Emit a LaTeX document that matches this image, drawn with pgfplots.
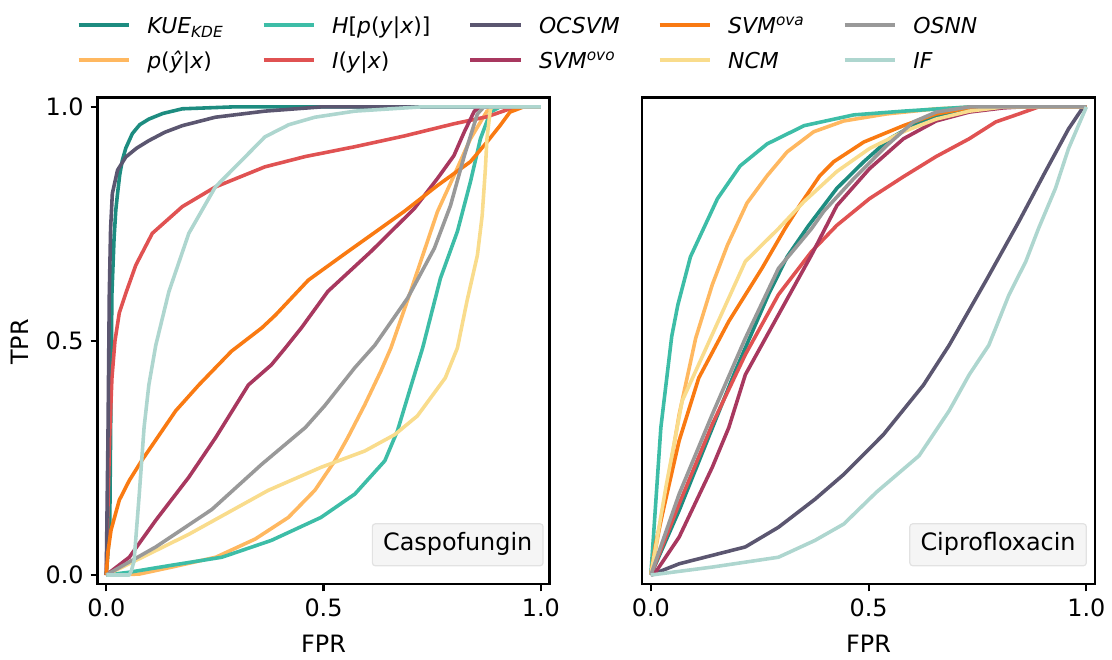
\documentclass[border=0pt]{standalone}
\usepackage{fontspec}
\setmainfont{DejaVu Sans}
\usepackage{pgfplots}
\pgfplotsset{compat=1.18}
\definecolor{ckue}{HTML}{1D8C80}
\definecolor{ch}{HTML}{3DBDA7}
\definecolor{cocsvm}{HTML}{5B5670}
\definecolor{cova}{HTML}{F97A12}
\definecolor{cosnn}{HTML}{999999}
\definecolor{cp}{HTML}{FFB860}
\definecolor{ci}{HTML}{E05252}
\definecolor{covo}{HTML}{A8385F}
\definecolor{cncm}{HTML}{F9DC8C}
\definecolor{cif}{HTML}{AED6CF}
\definecolor{boxfill}{HTML}{F5F5F5}
\definecolor{boxdraw}{HTML}{E2E2E2}
\tikzset{
  boxlab/.style={anchor=south east, fill=boxfill, draw=boxdraw, line width=0.6pt,
    rounded corners=1.5pt, font=\fontsize{12}{14}\selectfont,
    inner xsep=5.4pt, inner ysep=4.8pt, text height=8.8pt, text depth=2.7pt},
}
\pgfplotsset{
  myaxis/.style={
    scale only axis, height=244.5pt,
    xmin=-0.02, xmax=1.02, ymin=-0.02, ymax=1.02,
    axis line style={line width=1.1pt},
    tick align=outside, tick pos=left, major tick length=3.5pt,
    every tick/.style={black, line width=1.1pt},
    xtick={0,0.5,1}, xticklabels={0.0,0.5,1.0},
    tick label style={font=\fontsize{12}{14}\selectfont},
    label style={font=\fontsize{12}{14}\selectfont},
    xlabel={FPR},
    xlabel style={at={(axis description cs:0.5,-0.1227)}, anchor=center},
    every axis plot/.append style={line width=1.8pt, line join=round},
  },
}
\begin{document}
\begin{tikzpicture}
\path (0,0) rectangle (556pt,-328.5pt);
% ---------------- Caspofungin ----------------
\begin{axis}[myaxis, width=227pt, at={(49pt,-293.5pt)}, anchor=south west,
  ytick={0,0.5,1}, yticklabels={0.0,0.5,1.0},
  ylabel={TPR}, ylabel style={at={(axis description cs:-0.172,0.498)}, anchor=center},
  legend columns=5,
  legend cell align=left,
  legend image code/.code={\draw[#1, line width=2pt] (0pt,1.5pt) -- (25.5pt,1.5pt);},
  legend style={draw=none, fill=none, at={(axis description cs:-0.0463,1.1667)},
    anchor=north west, inner sep=0pt, outer sep=0pt,
    font=\fontsize{11}{13}\selectfont, row sep=6pt,
    nodes={inner sep=0pt, text height=8.5pt, text depth=3pt},
    /tikz/every odd column/.append style={column sep=8pt},
    /tikz/every even column/.append style={column sep=19pt}},
]
\addplot[color=ckue, forget plot] coordinates {(0,0) (0.008,0.1) (0.011,0.4) (0.013,0.6) (0.018,0.72) (0.022,0.78) (0.026,0.815) (0.031,0.855) (0.037,0.886) (0.045,0.912) (0.06,0.943) (0.077,0.962) (0.098,0.974) (0.13,0.986) (0.175,0.996) (0.29,1) (1,1)};
\addplot[color=cp, forget plot] coordinates {(0,0) (0.076,0.002) (0.151,0.017) (0.252,0.038) (0.343,0.077) (0.419,0.123) (0.48,0.181) (0.526,0.244) (0.556,0.294) (0.595,0.364) (0.632,0.436) (0.655,0.485) (0.70,0.605) (0.762,0.776) (0.8,0.853) (0.838,0.932) (0.876,0.991) (0.9,1) (1,1)};
\addplot[color=ch, forget plot] coordinates {(0,0) (0.053,0.006) (0.151,0.021) (0.266,0.038) (0.38,0.074) (0.494,0.123) (0.572,0.173) (0.641,0.244) (0.67,0.308) (0.70,0.40) (0.728,0.485) (0.769,0.634) (0.808,0.734) (0.838,0.84) (0.861,0.932) (0.884,0.989) (0.906,1.0) (1,1)};
\addplot[color=ci, forget plot] coordinates {(0,0) (0.004,0.15) (0.008,0.3) (0.013,0.42) (0.02,0.5) (0.03,0.56) (0.045,0.602) (0.068,0.662) (0.106,0.73) (0.175,0.787) (0.251,0.829) (0.365,0.872) (0.458,0.894) (0.572,0.915) (0.686,0.938) (0.8,0.964) (0.876,0.979) (0.929,0.996) (0.95,1) (1,1)};
\addplot[color=cocsvm, forget plot] coordinates {(0,0) (0.004,0.3) (0.007,0.6) (0.01,0.74) (0.014,0.815) (0.026,0.865) (0.045,0.893) (0.07,0.912) (0.098,0.928) (0.135,0.946) (0.175,0.96) (0.251,0.978) (0.365,0.991) (0.494,1) (1,1)};
\addplot[color=covo, forget plot] coordinates {(0,0) (0.053,0.038) (0.114,0.117) (0.19,0.209) (0.252,0.294) (0.327,0.406) (0.38,0.449) (0.412,0.485) (0.449,0.528) (0.51,0.606) (0.609,0.691) (0.709,0.783) (0.762,0.847) (0.8,0.896) (0.824,0.947) (0.847,0.991) (0.86,1) (1,1)};
\addplot[color=cova, forget plot] coordinates {(0,0) (0.004,0.05) (0.011,0.096) (0.03,0.16) (0.053,0.202) (0.082,0.245) (0.16,0.351) (0.213,0.406) (0.288,0.478) (0.358,0.528) (0.389,0.555) (0.465,0.63) (0.556,0.691) (0.609,0.726) (0.686,0.777) (0.762,0.832) (0.838,0.883) (0.876,0.925) (0.906,0.96) (0.929,0.989) (0.96,1) (1,1)};
\addplot[color=cncm, forget plot] coordinates {(0,0) (0.19,0.087) (0.373,0.181) (0.494,0.23) (0.595,0.265) (0.664,0.3) (0.716,0.34) (0.78,0.421) (0.808,0.485) (0.83,0.585) (0.854,0.683) (0.865,0.768) (0.872,0.862) (0.876,0.932) (0.884,0.996) (0.89,1) (1,1)};
\addplot[color=cosnn, forget plot] coordinates {(0,0) (0.114,0.06) (0.243,0.14) (0.357,0.236) (0.458,0.315) (0.503,0.362) (0.572,0.443) (0.618,0.491) (0.693,0.591) (0.755,0.698) (0.792,0.789) (0.824,0.896) (0.854,0.985) (0.869,1) (1,1)};
\addplot[color=cif, forget plot] coordinates {(0,0) (0.053,0) (0.058,0.01) (0.064,0.03) (0.076,0.173) (0.087,0.315) (0.098,0.406) (0.114,0.491) (0.144,0.605) (0.19,0.73) (0.251,0.829) (0.312,0.886) (0.365,0.936) (0.42,0.962) (0.48,0.978) (0.572,0.991) (0.723,1) (1,1)};
\node[boxlab] at (rel axis cs:0.987,0.037) {Caspofungin};
\addlegendimage{color=ckue}\addlegendentry{\textit{KUE\textsubscript{KDE}}}
\addlegendimage{color=ch}\addlegendentry{\textit{H}[\textit{p}(\textit{y}|\textit{x})]}
\addlegendimage{color=cocsvm}\addlegendentry{\textit{OCSVM}}
\addlegendimage{color=cova}\addlegendentry{\textit{SVM\textsuperscript{ova}}}
\addlegendimage{color=cosnn}\addlegendentry{\textit{OSNN}}
\addlegendimage{color=cp}\addlegendentry{\textit{p}(\textit{ŷ}|\textit{x})}
\addlegendimage{color=ci}\addlegendentry{\textit{I}(\textit{y}|\textit{x})}
\addlegendimage{color=covo}\addlegendentry{\textit{SVM\textsuperscript{ovo}}}
\addlegendimage{color=cncm}\addlegendentry{\textit{NCM}}
\addlegendimage{color=cif}\addlegendentry{\textit{IF}}
\end{axis}
% ---------------- Ciprofloxacin ----------------
\begin{axis}[myaxis, width=227.5pt, at={(322.5pt,-293.5pt)}, anchor=south west,
  ytick=\empty]
\addplot[color=ckue] coordinates {(0,0) (0.065,0.138) (0.126,0.279) (0.194,0.436) (0.27,0.599) (0.313,0.68) (0.361,0.745) (0.427,0.826) (0.489,0.883) (0.548,0.932) (0.616,0.968) (0.694,0.989) (0.81,1) (1,1)};
\addplot[color=cp] coordinates {(0,0) (0.03,0.15) (0.065,0.343) (0.103,0.506) (0.141,0.62) (0.176,0.705) (0.221,0.795) (0.267,0.853) (0.313,0.904) (0.374,0.947) (0.443,0.970) (0.541,0.985) (0.655,0.996) (0.75,1) (1,1)};
\addplot[color=ch] coordinates {(0,0) (0.023,0.315) (0.048,0.51) (0.062,0.577) (0.091,0.68) (0.153,0.804) (0.205,0.874) (0.267,0.921) (0.352,0.96) (0.466,0.983) (0.58,0.991) (0.731,1) (1,1)};
\addplot[color=ci] coordinates {(0,0) (0.065,0.152) (0.141,0.322) (0.217,0.471) (0.293,0.599) (0.369,0.691) (0.427,0.747) (0.502,0.804) (0.58,0.851) (0.655,0.894) (0.731,0.932) (0.792,0.968) (0.845,0.985) (0.89,1) (1,1)};
\addplot[color=cocsvm] coordinates {(0,0) (0.065,0.024) (0.217,0.06) (0.293,0.102) (0.377,0.162) (0.443,0.215) (0.534,0.3) (0.626,0.406) (0.685,0.491) (0.769,0.628) (0.845,0.755) (0.906,0.862) (0.959,0.953) (0.993,1) (1,1)};
\addplot[color=covo] coordinates {(0,0) (0.008,0.002) (0.065,0.081) (0.141,0.23) (0.179,0.315) (0.217,0.428) (0.293,0.556) (0.369,0.684) (0.427,0.789) (0.502,0.868) (0.58,0.932) (0.655,0.970) (0.731,0.989) (0.81,0.998) (0.85,1) (1,1)};
\addplot[color=cova] coordinates {(0,0) (0.011,0.067) (0.065,0.287) (0.11,0.421) (0.179,0.542) (0.255,0.655) (0.308,0.74) (0.342,0.79) (0.388,0.853) (0.42,0.883) (0.489,0.925) (0.58,0.96) (0.655,0.985) (0.731,0.998) (0.8,1) (1,1)};
\addplot[color=cncm] coordinates {(0,0) (0.035,0.19) (0.072,0.372) (0.217,0.67) (0.293,0.74) (0.352,0.798) (0.427,0.862) (0.502,0.911) (0.58,0.947) (0.655,0.974) (0.731,0.991) (0.81,1) (1,1)};
\addplot[color=cosnn] coordinates {(0,0) (0.065,0.173) (0.141,0.343) (0.217,0.506) (0.293,0.655) (0.369,0.74) (0.397,0.777) (0.466,0.847) (0.541,0.917) (0.603,0.968) (0.655,0.989) (0.731,1) (1,1)};
\addplot[color=cif] coordinates {(0,0) (0.141,0.017) (0.293,0.038) (0.377,0.074) (0.443,0.109) (0.518,0.177) (0.616,0.255) (0.685,0.351) (0.731,0.428) (0.776,0.491) (0.792,0.528) (0.822,0.598) (0.861,0.67) (0.89,0.74) (0.929,0.826) (0.959,0.911) (1,1)};
\node[boxlab] at (rel axis cs:0.982,0.037) {Ciprofloxacin};
\end{axis}
\end{tikzpicture}
\end{document}
